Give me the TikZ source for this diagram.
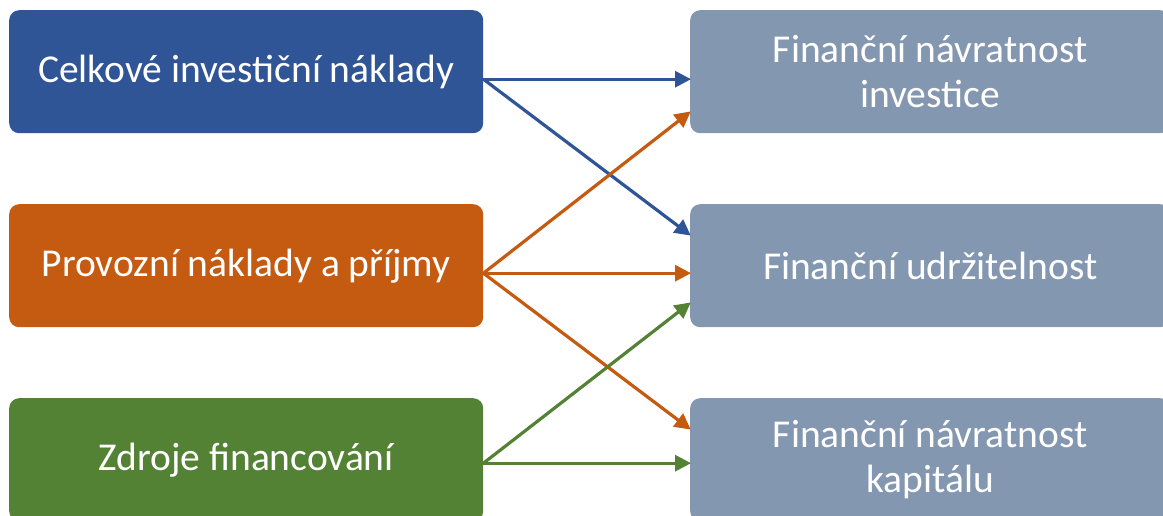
\documentclass[tikz,border=0pt]{standalone}
\usepackage{fontspec}
\setmainfont{Carlito}
\usetikzlibrary{arrows.meta}
\definecolor{cblue}{HTML}{2F5597}
\definecolor{corange}{HTML}{C55A11}
\definecolor{cgreen}{HTML}{548235}
\definecolor{cgray}{HTML}{8497B0}
\tikzset{
  box/.style={rounded corners=10pt, minimum width=474pt, minimum height=123pt, inner sep=0pt,
    text=white, align=center, font=\fontsize{39.5}{45}\selectfont, anchor=north west},
  conn/.style={line width=3.2pt, -{Triangle[length=16pt,width=16pt]}, shorten >=-1pt}
}
\begin{document}
\begin{tikzpicture}[x=1pt,y=-1pt]
\clip (0,0) rectangle (1163,516);
\useasboundingbox (0,0) rectangle (1163,516);
\node[box, fill=cblue] (L1) at (9,10) {Celkové investiční náklady};
\node[box, fill=corange] (L2) at (9,204) {Provozní náklady a příjmy};
\node[box, fill=cgreen] (L3) at (9,398) {Zdroje financování};
\node[box, fill=cgray, minimum width=480pt] (R1) at (690,10) {Finanční návratnost\\investice};
\node[box, fill=cgray, minimum width=480pt] (R2) at (690,204) {Finanční udržitelnost};
\node[box, fill=cgray, minimum width=480pt] (R3) at (690,398) {Finanční návratnost\\kapitálu};
% blue
\draw[conn, cblue] ([yshift=-7.5pt]L1.east) -- ([yshift=-7.5pt]R1.west);
\draw[conn, cblue] ([yshift=-7.5pt]L1.east) -- ([yshift=-31pt]R2.north west);
% orange
\draw[conn, corange] ([yshift=-7.5pt]L2.east) -- ([yshift=-102pt]R1.north west);
\draw[conn, corange] ([yshift=-7.5pt]L2.east) -- ([yshift=-7.5pt]R2.west);
\draw[conn, corange] ([yshift=-7.5pt]L2.east) -- ([yshift=-31pt]R3.north west);
% green
\draw[conn, cgreen] ([yshift=-3.5pt]L3.east) -- ([yshift=-99pt]R2.north west);
\draw[conn, cgreen] ([yshift=-3.5pt]L3.east) -- ([yshift=-3.5pt]R3.west);
\end{tikzpicture}
\end{document}
